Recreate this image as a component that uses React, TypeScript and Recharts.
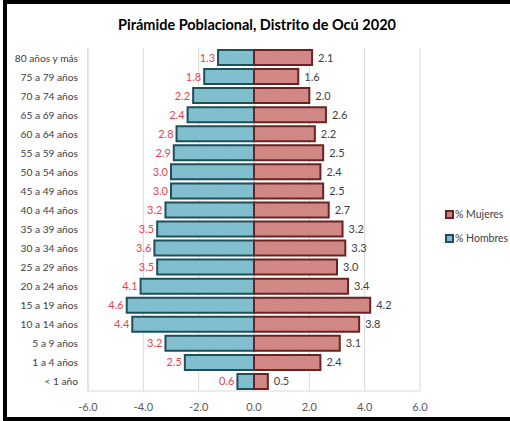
import { Bar, BarChart, CartesianGrid, LabelList, XAxis, YAxis } from "recharts";

const groups = [
  "80 años y más", "75 a 79 años", "70 a 74 años", "65 a 69 años", "60 a 64 años",
  "55 a 59 años", "50 a 54 años", "45 a 49 años", "40 a 44 años", "35 a 39 años",
  "30 a 34 años", "25 a 29 años", "20 a 24 años", "15 a 19 años", "10 a 14 años",
  "5 a 9 años", "1 a 4 años", "< 1 año",
];
const hombres = [1.3, 1.8, 2.2, 2.4, 2.8, 2.9, 3.0, 3.0, 3.2, 3.5, 3.6, 3.5, 4.1, 4.6, 4.4, 3.2, 2.5, 0.6];
const mujeres = [2.1, 1.6, 2.0, 2.6, 2.2, 2.5, 2.4, 2.5, 2.7, 3.2, 3.3, 3.0, 3.4, 4.2, 3.8, 3.1, 2.4, 0.5];
const xTicks = [-6, -4, -2, 0, 2, 4, 6];

const FONT = "Lato, 'Open Sans', sans-serif";
const MEN_FILL = "#7abacb";
const MEN_LINE = "#1d4f5d";
const WOMEN_FILL = "#cd807d";
const WOMEN_LINE = "#6a2321";

const data = groups.map((g, i) => ({ g, men: -hombres[i], women: mujeres[i] }));

function MenLabel(props: any) {
  const { x, y, width, height, value } = props;
  const left = Math.min(x, x + width);
  return (
    <text x={left - 3} y={y + height / 2 + 4} textAnchor="end" fontSize={11} fill="#ee3f4f" fontFamily={FONT}>
      {Math.abs(value).toFixed(1)}
    </text>
  );
}

function WomenLabel(props: any) {
  const { x, y, width, height, value } = props;
  const right = Math.max(x, x + width);
  return (
    <text x={right + 6} y={y + height / 2 + 4} textAnchor="start" fontSize={11} fill="#404040" fontFamily={FONT}>
      {Number(value).toFixed(1)}
    </text>
  );
}

function GroupTick(props: any) {
  const { y, payload } = props;
  return (
    <text x={78} y={y + 4} textAnchor="end" fontSize={10.2} fill="#404040" fontFamily={FONT}>
      {payload.value}
    </text>
  );
}

function LegendBox() {
  const item = (fill: string, line: string, label: string) => (
    <div style={{ display: "flex", alignItems: "center", height: 24 }}>
      <span style={{ width: 5, height: 5, background: fill, border: `2px solid ${line}`, marginRight: 1 }} />
      <span style={{ fontSize: 10.5, color: "#404040", fontFamily: FONT }}>{label}</span>
    </div>
  );
  return (
    <div style={{ position: "absolute", left: 445, top: 202 }}>
      {item(WOMEN_FILL, WOMEN_LINE, "% Mujeres")}
      {item(MEN_FILL, MEN_LINE, "% Hombres")}
    </div>
  );
}

export default function App() {
  return (
    <div style={{ position: "fixed", left: 0, top: 0, width: 510, height: 421, background: "#fff", overflow: "hidden" }}>
      <div style={{ position: "absolute", left: 3, top: 0, width: 507, height: 4, background: "#000" }} />
      <div style={{ position: "absolute", left: 3, top: 0, width: 4, height: 421, background: "#000" }} />
      <div style={{ position: "absolute", left: 3, top: 417, width: 507, height: 4, background: "#000" }} />
      <div
        style={{
          position: "absolute", left: 0, top: 16, width: 514, textAlign: "center",
          fontFamily: FONT, fontWeight: 700, fontSize: 14.5, color: "#000",
        }}
      >
        Pirámide Poblacional, Distrito de Ocú 2020
      </div>
      <div style={{ position: "absolute", left: 0, top: 0 }}>
        <BarChart
          width={510}
          height={421}
          data={data}
          layout="vertical"
          stackOffset="sign"
          barCategoryGap={2}
          margin={{ top: 48, right: 90, bottom: 10, left: 0 }}
        >
          <defs>
            <pattern id="menPat" width="3" height="3" patternUnits="userSpaceOnUse">
              <rect width="3" height="3" fill={MEN_FILL} />
              <path d="M0 3 L3 0" stroke="#93cad8" strokeWidth="0.8" />
            </pattern>
            <pattern id="womenPat" width="3" height="3" patternUnits="userSpaceOnUse">
              <rect width="3" height="3" fill={WOMEN_FILL} />
              <path d="M0 3 L3 0" stroke="#dc9d9a" strokeWidth="0.8" />
            </pattern>
          </defs>
          <CartesianGrid horizontal={false} stroke="#d9d9d9" />
          <XAxis
            type="number"
            domain={[-6, 6]}
            ticks={xTicks}
            tickFormatter={(v: number) => v.toFixed(1)}
            tick={{ fontSize: 11, fill: "#595959", fontFamily: FONT, dy: 4 }}
            tickLine={false}
            axisLine={{ stroke: "#d9d9d9" }}
            height={20}
          />
          <YAxis
            type="category"
            dataKey="g"
            width={88}
            tick={GroupTick}
            tickLine={false}
            axisLine={{ stroke: "#d9d9d9" }}
            interval={0}
          />
          <Bar dataKey="men" name="% Hombres" stackId="a" fill="url(#menPat)" stroke={MEN_LINE} strokeWidth={2} isAnimationActive={false}>
            <LabelList dataKey="men" content={MenLabel} />
          </Bar>
          <Bar dataKey="women" name="% Mujeres" stackId="a" fill="url(#womenPat)" stroke={WOMEN_LINE} strokeWidth={2} isAnimationActive={false}>
            <LabelList dataKey="women" content={WomenLabel} />
          </Bar>
        </BarChart>
      </div>
      <LegendBox />
    </div>
  );
}
